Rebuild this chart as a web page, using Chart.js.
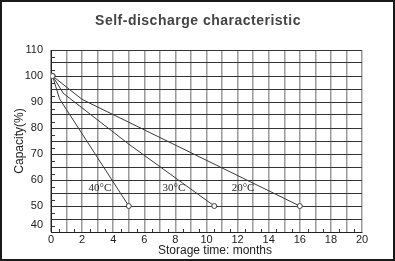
<!DOCTYPE html>
<html>
<head>
<meta charset="utf-8">
<script src="https://cdn.jsdelivr.net/npm/chart.js@4/dist/chart.umd.min.js"></script>
<style>
  html, body { margin: 0; padding: 0; background: #fff; }
  #wrap { width: 395px; height: 261px; }
</style>
</head>
<body>
<div id="wrap"><canvas id="myChart" width="395" height="261"></canvas></div>
<script>
// values
const months20 = [0.1, 2, 16];
const capacity20 = [100, 91, 50];
const months30 = [0.1, 0.8, 5, 10.5];
const capacity30 = [100, 93.3, 73.8, 50];
const months40 = [0.1, 0.55, 5];
const capacity40 = [100, 91.2, 50];
const curveNames = ['20°C', '30°C', '40°C'];
const xTicks = [0, 2, 4, 6, 8, 10, 12, 14, 16, 18, 20];
const yTicks = [40, 50, 60, 70, 80, 90, 100, 110];

function toPoints(xs, ys) {
  return xs.map((x, i) => ({ x: x, y: ys[i] }));
}
function endRadius(xs) {
  return xs.map((_, i) => (i === 0 || i === xs.length - 1) ? 2.5 : 0);
}
function curve(xs, ys, name) {
  return {
    label: name,
    data: toPoints(xs, ys),
    showLine: true,
    borderColor: '#3a3a3a',
    borderWidth: 1,
    pointRadius: endRadius(xs),
    pointBackgroundColor: '#fff',
    pointBorderColor: '#444',
    pointBorderWidth: 1,
  };
}

// where the temperature names sit (data coords)
const namePos = { '20°C': [12.35, 57], '30°C': [7.9, 57], '40°C': [3.15, 57] };

const deco = {
  id: 'deco',
  beforeDraw(chart) {
    const c = chart.ctx;
    c.save();
    c.fillStyle = '#fff';
    c.fillRect(0, 0, chart.width, chart.height);
    c.restore();
  },
  afterDatasetsDraw(chart) {
    const c = chart.ctx;
    const xs = chart.scales.x, ys = chart.scales.y;
    const a = chart.chartArea;
    c.save();
    // minor ticks
    c.strokeStyle = '#333';
    c.lineWidth = 1;
    c.beginPath();
    for (let v = 42.5; v < 110; v += 5) {
      const py = Math.round(ys.getPixelForValue(v)) + 0.5;
      c.moveTo(a.left, py); c.lineTo(a.left + 4, py);
    }
    for (let m = 0.5; m < 20; m += 1) {
      const px = Math.round(xs.getPixelForValue(m)) + 0.5;
      c.moveTo(px, a.bottom); c.lineTo(px, a.bottom - 3);
    }
    c.stroke();
    // temperature names
    c.fillStyle = '#222';
    c.font = '11px "Liberation Serif"';
    c.textAlign = 'center';
    c.textBaseline = 'middle';
    curveNames.forEach(n => {
      const p = namePos[n];
      c.fillText(n, xs.getPixelForValue(p[0]), ys.getPixelForValue(p[1]));
    });
    // title
    c.fillStyle = '#444';
    c.font = 'bold 14px "Liberation Sans"';
    c.letterSpacing = '0.5px';
    c.fillText('Self-discharge characteristic', 198, 21);
    c.letterSpacing = '0px';
    // axis titles
    c.fillStyle = '#222';
    c.font = '12px "Liberation Sans"';
    c.fillText('Storage time: months', 215, 251);
    c.translate(20, (a.top + a.bottom) / 2);
    c.rotate(-Math.PI / 2);
    c.fillText('Capacity(%)', 0, 0);
    c.restore();
    // frame
    c.save();
    c.strokeStyle = '#1a1a1a';
    c.lineWidth = 2;
    c.strokeRect(1, 1, chart.width - 2, chart.height - 2);
    c.restore();
  }
};

const ctx = document.getElementById('myChart').getContext('2d');
const myChart = new Chart(ctx, {
  type: 'scatter',
  data: {
    datasets: [
      curve(months20, capacity20, curveNames[0]),
      curve(months30, capacity30, curveNames[1]),
      curve(months40, capacity40, curveNames[2]),
    ],
  },
  options: {
    responsive: false,
    animation: false,
    layout: { padding: { top: 50, right: 33, bottom: 0, left: 0 } },
    plugins: { legend: { display: false }, tooltip: { enabled: false } },
    scales: {
      x: {
        type: 'linear',
        min: 0, max: 20,
        afterFit: s => { s.height = 29; },
        grid: { color: '#9a9a9a', lineWidth: 1.5, drawTicks: false },
        border: { color: '#222', width: 1 },
        ticks: {
          stepSize: 1,
          padding: 1,
          maxRotation: 0,
          autoSkip: false,
          color: '#222',
          font: { family: 'Liberation Sans', size: 11 },
          callback: v => xTicks.includes(v) ? String(v) : '',
        },
      },
      y: {
        min: 40, max: 110,
        afterFit: s => { s.width = 51; },
        grid: { color: '#333', lineWidth: 1, drawTicks: false },
        border: { color: '#222', width: 1 },
        ticks: {
          stepSize: 5,
          padding: 8,
          autoSkip: false,
          color: '#222',
          font: { family: 'Liberation Sans', size: 11 },
          callback: v => v === 40 ? ['40', ''] : (yTicks.includes(v) ? String(v) : ''),
        },
      },
    },
  },
  plugins: [deco],
});
</script>
</body>
</html>
